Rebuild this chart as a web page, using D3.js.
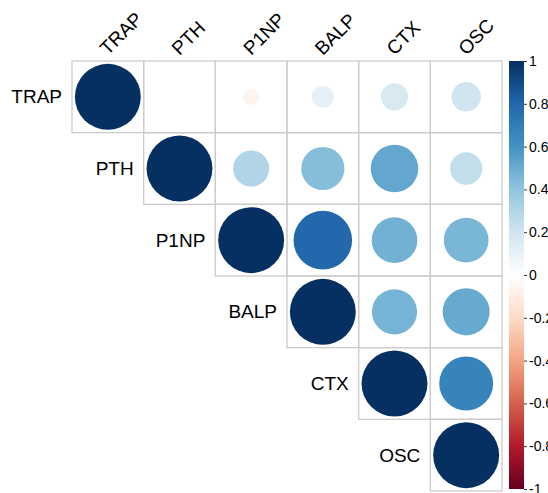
<!DOCTYPE html>
<html>
<head>
<meta charset="utf-8">
<script src="https://cdn.jsdelivr.net/npm/d3@7"></script>
<style>
  html, body { margin: 0; padding: 0; background: #fff; }
  svg { display: block; font-family: Arial, "Liberation Sans", sans-serif; }
</style>
</head>
<body>
<div id="chart"></div>
<script>
// variables and correlation matrix
const vars = ['TRAP', 'PTH', 'P1NP', 'BALP', 'CTX', 'OSC'];
const corrRows = [
  [1.00, 0.00, -0.06, 0.11, 0.17, 0.20],
  [0.00, 1.00, 0.30, 0.43, 0.52, 0.24],
  [-0.06, 0.30, 1.00, 0.79, 0.48, 0.46],
  [0.11, 0.43, 0.79, 1.00, 0.47, 0.51],
  [0.17, 0.52, 0.48, 0.47, 1.00, 0.67],
  [0.20, 0.24, 0.46, 0.51, 0.67, 1.00]
];
const legendTicks = [1, 0.8, 0.6, 0.4, 0.2, 0, -0.2, -0.4, -0.6, -0.8, -1];
const paletteStops = ['#67001F', '#B2182B', '#D6604D', '#F4A582', '#FDDBC7', '#FFFFFF',
  '#D1E5F0', '#92C5DE', '#4393C3', '#2166AC', '#053061'];

const width = 548;
const height = 493;
const grid = { left: 72, top: 61, right: 502, bottom: 491 };

const svg = d3.select('#chart')
  .append('svg')
  .attr('width', width)
  .attr('height', height);

const x = d3.scaleBand().domain(vars).range([grid.left, grid.right]);
const y = d3.scaleBand().domain(vars).range([grid.top, grid.bottom]);
const cell = x.bandwidth();

const color = d3.scaleLinear()
  .domain(d3.range(paletteStops.length).map(i => -1 + i * 2 / (paletteStops.length - 1)))
  .range(paletteStops)
  .interpolate(d3.interpolateRgb);

// upper triangle incl. diagonal
const cells = [];
corrRows.forEach((row, i) => {
  row.forEach((v, j) => {
    if (j >= i) cells.push({ row: vars[i], col: vars[j], value: v });
  });
});

const g = svg.append('g');

g.selectAll('rect.cell')
  .data(cells)
  .join('rect')
  .attr('class', 'cell')
  .attr('x', d => x(d.col))
  .attr('y', d => y(d.row))
  .attr('width', cell)
  .attr('height', cell)
  .attr('fill', 'none')
  .attr('stroke', '#cccccc')
  .attr('stroke-width', 1.3);

g.selectAll('circle')
  .data(cells.filter(d => d.value !== 0))
  .join('circle')
  .attr('cx', d => x(d.col) + cell / 2)
  .attr('cy', d => y(d.row) + cell / 2)
  .attr('r', d => Math.sqrt(Math.abs(d.value)) * cell * 0.46)
  .attr('fill', d => color(d.value));

// column labels, rotated
svg.append('g')
  .selectAll('text')
  .data(vars)
  .join('text')
  .attr('transform', d => `translate(${x(d) + cell / 2}, ${grid.top - 5}) rotate(-45)`)
  .attr('font-size', 19)
  .attr('fill', '#000')
  .text(d => d);

// row labels, next to the diagonal
svg.append('g')
  .selectAll('text')
  .data(vars)
  .join('text')
  .attr('x', d => x(d) - 10)
  .attr('y', d => y(d) + cell / 2)
  .attr('dy', '0.35em')
  .attr('text-anchor', 'end')
  .attr('font-size', 19)
  .attr('fill', '#000')
  .text(d => d);

// colour legend
const legendY = d3.scaleLinear().domain([-1, 1]).range([489, 61]);
const barX = 509;
const barW = 15;

const grad = svg.append('defs')
  .append('linearGradient')
  .attr('id', 'corr-grad')
  .attr('x1', 0).attr('x2', 0)
  .attr('y1', 1).attr('y2', 0);

grad.selectAll('stop')
  .data(paletteStops)
  .join('stop')
  .attr('offset', (_, i) => i / (paletteStops.length - 1))
  .attr('stop-color', d => d);

svg.append('rect')
  .attr('x', barX)
  .attr('y', legendY(1))
  .attr('width', barW)
  .attr('height', legendY(-1) - legendY(1))
  .attr('fill', 'url(#corr-grad)');

svg.append('g')
  .attr('transform', `translate(${barX + barW}, 0)`)
  .call(d3.axisRight(legendY)
    .tickValues(legendTicks)
    .tickFormat(d => String(d))
    .tickSize(3)
    .tickPadding(2))
  .call(a => a.select('.domain').remove())
  .call(a => a.selectAll('.tick line').attr('stroke', '#333'))
  .call(a => a.selectAll('.tick text')
    .attr('font-size', 14)
    .attr('font-family', 'Arial, "Liberation Sans", sans-serif')
    .attr('fill', '#000'));
</script>
</body>
</html>
